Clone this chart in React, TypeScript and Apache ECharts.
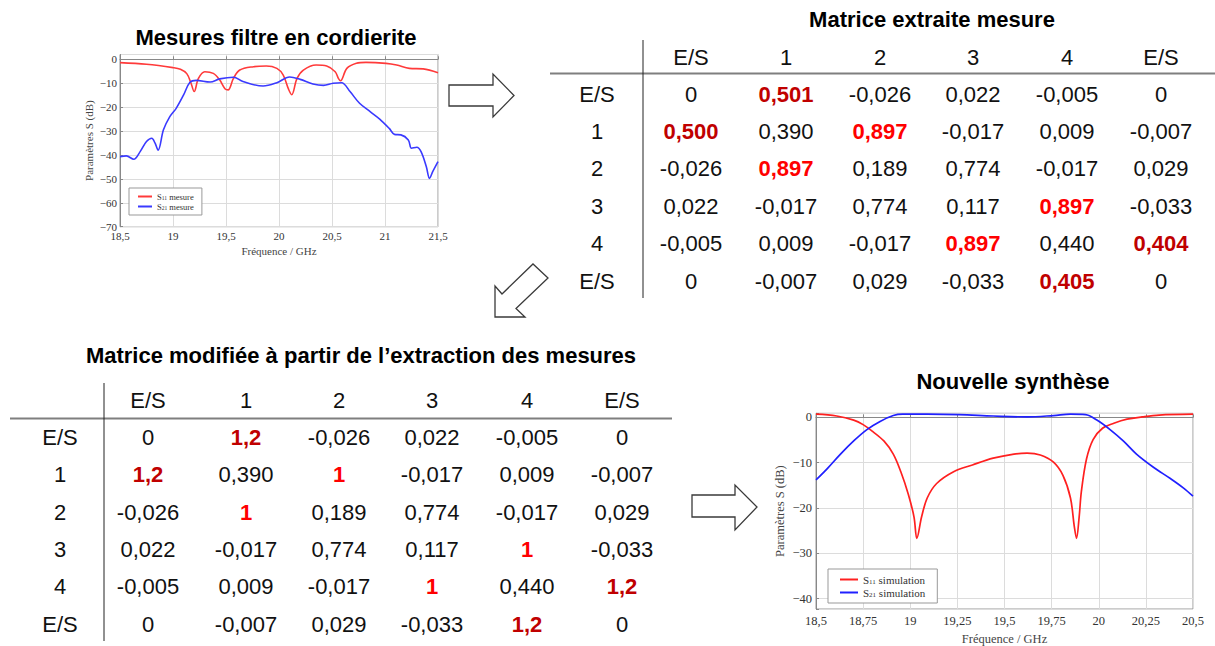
import React, { useEffect, useRef } from "react";
import * as echarts from "echarts";

// ---------- Data: measured filter (top-left) ----------
const s11MeasFreq = [18.5, 18.75, 19.0, 19.07, 19.13, 19.17, 19.2, 19.24, 19.3, 19.38, 19.44, 19.49, 19.52, 19.57, 19.63, 19.76, 19.88, 19.98, 20.04, 20.09, 20.12, 20.17, 20.23, 20.35, 20.45, 20.53, 20.56, 20.58, 20.64, 20.73, 20.82, 21.01, 21.11, 21.23, 21.36, 21.5];
const s11MeasDb = [-1.4, -2.1, -3.5, -4.2, -6.0, -10.0, -13.5, -8.0, -5.2, -5.9, -8.6, -12.3, -12.8, -8.0, -4.5, -3.1, -2.8, -3.8, -6.6, -12.5, -14.8, -8.0, -4.5, -2.4, -2.8, -5.2, -8.0, -9.0, -3.8, -1.7, -1.3, -1.7, -2.4, -3.8, -4.0, -5.6];
const s21MeasFreq = [18.5, 18.56, 18.63, 18.69, 18.75, 18.8, 18.83, 18.86, 18.91, 18.97, 19.03, 19.1, 19.16, 19.22, 19.35, 19.44, 19.57, 19.66, 19.85, 19.98, 20.1, 20.2, 20.32, 20.42, 20.51, 20.59, 20.67, 20.76, 20.86, 20.95, 21.04, 21.09, 21.15, 21.22, 21.25, 21.3, 21.34, 21.39, 21.42, 21.45, 21.5];
const s21MeasDb = [-40.7, -40.4, -41.8, -38.6, -34.4, -33.0, -35.0, -38.0, -29.5, -24.0, -20.5, -14.9, -9.6, -8.8, -9.5, -8.2, -7.5, -9.3, -11.2, -9.8, -7.4, -8.4, -10.3, -10.9, -10.0, -9.8, -13.5, -18.4, -21.9, -25.0, -28.9, -31.4, -31.6, -33.7, -37.2, -36.8, -38.6, -44.9, -49.8, -47.0, -42.8];

// ---------- Data: new synthesis (bottom-right) ----------
const s11SimFreq = [18.5, 18.61, 18.7, 18.75, 18.8, 18.86, 18.91, 18.95, 18.99, 19.02, 19.035, 19.06, 19.09, 19.14, 19.23, 19.33, 19.44, 19.55, 19.62, 19.69, 19.76, 19.81, 19.85, 19.87, 19.882, 19.896, 19.908, 19.935, 19.97, 20.02, 20.08, 20.15, 20.23, 20.32, 20.5];
const s11SimDb = [0.7, 0.3, -0.6, -1.6, -3.1, -5.2, -8.1, -12.0, -17.0, -22.0, -26.7, -22.0, -17.8, -14.6, -12.0, -10.5, -9.0, -8.1, -7.9, -8.3, -9.9, -12.8, -17.8, -24.0, -26.7, -22.0, -16.3, -9.2, -4.9, -2.4, -1.3, -0.4, 0.1, 0.5, 0.7];
const s21SimFreq = [18.5, 18.56, 18.63, 18.7, 18.77, 18.84, 18.91, 18.96, 19.09, 19.26, 19.44, 19.62, 19.76, 19.85, 19.93, 19.99, 20.06, 20.13, 20.2, 20.29, 20.38, 20.45, 20.5];
const s21SimDb = [-13.8, -11.3, -8.1, -5.2, -2.7, -0.9, 0.4, 0.7, 0.7, 0.6, 0.3, 0.1, 0.4, 0.7, 0.6, -0.6, -2.7, -5.2, -8.1, -11.0, -13.5, -15.6, -17.4];

// ---------- Tables ----------
const matrixHeaders = ["E/S", "1", "2", "3", "4", "E/S"];
const extractedMatrix = [
  ["0", "0,501", "-0,026", "0,022", "-0,005", "0"],
  ["0,500", "0,390", "0,897", "-0,017", "0,009", "-0,007"],
  ["-0,026", "0,897", "0,189", "0,774", "-0,017", "0,029"],
  ["0,022", "-0,017", "0,774", "0,117", "0,897", "-0,033"],
  ["-0,005", "0,009", "-0,017", "0,897", "0,440", "0,404"],
  ["0", "-0,007", "0,029", "-0,033", "0,405", "0"],
];
const modifiedMatrix = [
  ["0", "1,2", "-0,026", "0,022", "-0,005", "0"],
  ["1,2", "0,390", "1", "-0,017", "0,009", "-0,007"],
  ["-0,026", "1", "0,189", "0,774", "-0,017", "0,029"],
  ["0,022", "-0,017", "0,774", "0,117", "1", "-0,033"],
  ["-0,005", "0,009", "-0,017", "1", "0,440", "1,2"],
  ["0", "-0,007", "0,029", "-0,033", "1,2", "0"],
];
const ioCouplings = [[0, 1], [1, 0], [4, 5], [5, 4]];
const interCouplings = [[1, 2], [2, 1], [3, 4], [4, 3]];

const titleTopLeft = "Mesures filtre en cordierite";
const titleTopRight = "Matrice extraite mesure";
const titleBottomLeft = "Matrice modifiée à partir de l’extraction des mesures";
const titleBottomRight = "Nouvelle synthèse";

const SERIF = '"Liberation Serif", "Times New Roman", serif';
const SANS = 'Arial, "Liberation Sans", sans-serif';

const zip = (f: number[], d: number[]) => f.map((x, i) => [x, d[i]]);
const fmtComma = (v: number) => String(Math.round(v * 1000) / 1000).replace(".", ",");
const fmtDb = (v: number) => {
  if (Math.abs(v % 10) > 1e-6) return "";
  if (v < 0) return "\u2212" + Math.abs(v);
  return String(v);
};
const legendFmt = (name: string) => {
  const m = name.match(/^S(\d+) (.*)$/);
  if (!m) return name;
  return `{s|S}{sub|${m[1]}}{s| ${m[2]}}`;
};

function isIn(list: number[][], r: number, c: number) {
  return list.some(([a, b]) => a === r && b === c);
}

function tableGraphics(
  matrix: string[][],
  colX: number[],
  labelX: number,
  headerY: number,
  rowY: number[],
  hLine: [number, number, number],
  vLine: [number, number, number]
) {
  const els: any[] = [];
  const txt = (text: string, x: number, y: number, fill: string, bold: boolean) => ({
    type: "text",
    x,
    y,
    style: {
      text,
      fill,
      font: `${bold ? "bold " : ""}22px ${SANS}`,
      textAlign: "center",
      textVerticalAlign: "middle",
      align: "center",
      verticalAlign: "middle",
    },
  });
  matrixHeaders.forEach((h, i) => els.push(txt(h, colX[i], headerY, "#111", false)));
  matrixHeaders.forEach((h, r) => els.push(txt(h, labelX, rowY[r], "#111", false)));
  matrix.forEach((row, r) =>
    row.forEach((v, c) => {
      let fill = "#111";
      let bold = false;
      if (isIn(ioCouplings, r, c)) {
        fill = "#c00000";
        bold = true;
      } else if (isIn(interCouplings, r, c)) {
        fill = "#ff0000";
        bold = true;
      }
      els.push(txt(v, colX[c], rowY[r], fill, bold));
    })
  );
  els.push({
    type: "line",
    shape: { x1: hLine[0], y1: hLine[2], x2: hLine[1], y2: hLine[2] },
    style: { stroke: "#7f7f7f", lineWidth: 2 },
  });
  els.push({
    type: "line",
    shape: { x1: vLine[2], y1: vLine[0], x2: vLine[2], y2: vLine[1] },
    style: { stroke: "#222", lineWidth: 1 },
  });
  return els;
}

function title(text: string, x: number, y: number) {
  return {
    type: "text",
    x,
    y,
    style: {
      text,
      fill: "#000",
      font: `bold 22px ${SANS}`,
      textAlign: "center",
      textVerticalAlign: "middle",
      align: "center",
      verticalAlign: "middle",
    },
  };
}

function arrow(points: number[][]) {
  return {
    type: "polygon",
    shape: { points },
    style: { fill: "#fff", stroke: "#3a3a3a", lineWidth: 1.3 },
  };
}

function buildOption(): any {
  const axisCommon = (fs: number) => ({
    axisLine: { show: true, lineStyle: { color: "#888" } },
    axisTick: { show: true, inside: true, length: 3, lineStyle: { color: "#888" } },
    splitLine: { show: true, lineStyle: { color: "#dcdcdc", width: 1 } },
    nameLocation: "middle",
    nameTextStyle: { fontFamily: SERIF, fontSize: fs, color: "#444" },
  });

  const graphics: any[] = [
    title(titleTopLeft, 276, 37),
    title(titleTopRight, 932, 19),
    title(titleBottomLeft, 361, 355),
    title(titleBottomRight, 1013, 381),
    ...tableGraphics(
      extractedMatrix,
      [691, 786, 880, 973, 1067, 1161],
      597,
      57,
      [94, 131, 168, 206, 243, 281],
      [550, 1215, 73.5],
      [40, 298, 643]
    ),
    ...tableGraphics(
      modifiedMatrix,
      [148, 246, 339, 432, 527, 622],
      60,
      400,
      [437, 474, 512, 549, 586, 624],
      [10, 672, 418.5],
      [383, 641, 104]
    ),
    arrow([[449, 85], [493, 85], [493, 74], [514, 95.5], [493, 117], [493, 106], [449, 106]]),
    arrow([[495, 317], [525, 317], [516, 308.5], [548, 278], [533, 264], [502, 294], [495, 286]]),
    arrow([[692, 495], [735, 495], [735, 485], [757, 507], [735, 530], [735, 517], [692, 517]]),
  ];

  const lineSeries = (name: string, ax: number, f: number[], d: number[], color: string, w: number) => ({
    name,
    type: "line",
    xAxisIndex: ax,
    yAxisIndex: ax,
    data: zip(f, d),
    showSymbol: false,
    symbol: "none",
    smooth: 0.35,
    lineStyle: { color, width: w },
    itemStyle: { color },
  });

  return {
    animation: false,
    backgroundColor: "#fff",
    grid: [
      { left: 120, top: 54.5, width: 318, height: 172.2, show: true, borderColor: "#999", borderWidth: 1, backgroundColor: "#fff" },
      { left: 816, top: 413.3, width: 377, height: 200.7, show: true, borderColor: "#999", borderWidth: 1, backgroundColor: "#fff" },
    ],
    xAxis: [
      {
        type: "value",
        gridIndex: 0,
        min: 18.5,
        max: 21.5,
        interval: 0.5,
        name: "Fréquence / GHz",
        nameGap: 19,
        ...axisCommon(11),
        axisLabel: { formatter: fmtComma, fontFamily: SERIF, fontSize: 11, color: "#333", margin: 4 },
      },
      {
        type: "value",
        gridIndex: 1,
        min: 18.5,
        max: 20.5,
        interval: 0.25,
        name: "Fréquence / GHz",
        nameGap: 23,
        ...axisCommon(12.5),
        axisLabel: { formatter: fmtComma, fontFamily: SERIF, fontSize: 12.5, color: "#333", margin: 5 },
      },
    ],
    yAxis: [
      {
        type: "value",
        gridIndex: 0,
        min: -70,
        max: 2,
        interval: 10,
        name: "Paramètres S (dB)",
        nameGap: 26,
        ...axisCommon(11),
        axisLabel: { formatter: fmtDb, fontFamily: SERIF, fontSize: 11, color: "#333", margin: 3, showMaxLabel: false },
      },
      {
        type: "value",
        gridIndex: 1,
        min: -42.3,
        max: 0.9,
        name: "Paramètres S (dB)",
        nameGap: 30,
        ...axisCommon(12.5),
        axisLabel: { formatter: fmtDb, fontFamily: SERIF, fontSize: 12.5, color: "#333", margin: 4 },
      },
    ],
    legend: [
      {
        data: ["S11 mesure", "S21 mesure"],
        left: 129,
        top: 188,
        orient: "vertical",
        padding: [4, 8, 4, 9],
        itemGap: 1,
        itemWidth: 14,
        itemHeight: 2,
        icon: "rect",
        backgroundColor: "#fff",
        borderColor: "#999",
        borderWidth: 1,
        borderRadius: 0,
        formatter: legendFmt,
        textStyle: {
          fontFamily: SERIF,
          fontSize: 8.5,
          color: "#333",
          rich: {
            s: { fontFamily: SERIF, fontSize: 8.5, color: "#333" },
            sub: { fontFamily: SERIF, fontSize: 5.5, color: "#333", verticalAlign: "bottom", padding: [3, 0, 0, 0] },
          },
        },
      },
      {
        data: ["S11 simulation", "S21 simulation"],
        left: 828,
        top: 569,
        orient: "vertical",
        padding: [5, 12, 5, 12],
        itemGap: 2,
        itemWidth: 18,
        itemHeight: 2,
        icon: "rect",
        backgroundColor: "#fff",
        borderColor: "#999",
        borderWidth: 1,
        borderRadius: 0,
        formatter: legendFmt,
        textStyle: {
          fontFamily: SERIF,
          fontSize: 11,
          color: "#333",
          rich: {
            s: { fontFamily: SERIF, fontSize: 11, color: "#333" },
            sub: { fontFamily: SERIF, fontSize: 7, color: "#333", verticalAlign: "bottom", padding: [3, 0, 0, 0] },
          },
        },
      },
    ],
    series: [
      lineSeries("S11 mesure", 0, s11MeasFreq, s11MeasDb, "#ff3a3a", 1.6),
      lineSeries("S21 mesure", 0, s21MeasFreq, s21MeasDb, "#3a3aff", 1.6),
      lineSeries("S11 simulation", 1, s11SimFreq, s11SimDb, "#ff2020", 1.7),
      lineSeries("S21 simulation", 1, s21SimFreq, s21SimDb, "#2020ff", 1.7),
    ],
    graphic: graphics,
  };
}

export default function App() {
  const ref = useRef<HTMLDivElement>(null);
  useEffect(() => {
    if (!ref.current) return;
    const chart = echarts.init(ref.current, null, { renderer: "svg" });
    chart.setOption(buildOption());
    return () => chart.dispose();
  }, []);
  return (
    <div
      ref={ref}
      style={{ position: "fixed", left: 0, top: 0, width: 1215, height: 646, background: "#fff" }}
    />
  );
}
